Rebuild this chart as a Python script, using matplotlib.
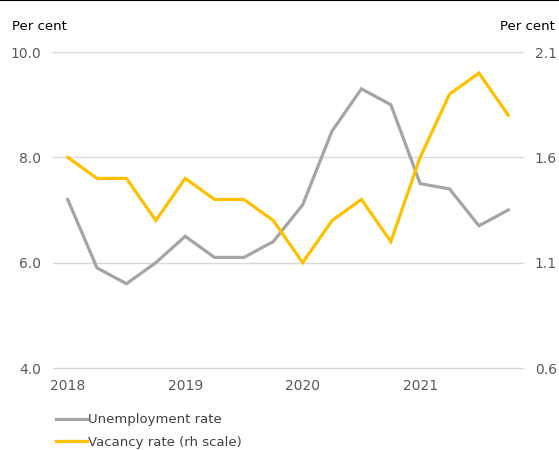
import matplotlib.pyplot as plt
from matplotlib.lines import Line2D

quarters = list(range(16))
year_pos = [0, 4, 8, 12]
year_labels = ['2018', '2019', '2020', '2021']
unemployment = [7.2, 5.9, 5.6, 6.0, 6.5, 6.1, 6.1, 6.4, 7.1, 8.5, 9.3, 9.0, 7.5, 7.4, 6.7, 7.0]
vacancy = [1.6, 1.5, 1.5, 1.3, 1.5, 1.4, 1.4, 1.3, 1.1, 1.3, 1.4, 1.2, 1.6, 1.9, 2.0, 1.8]
left_ticks = [4.0, 6.0, 8.0, 10.0]
right_ticks = [0.6, 1.1, 1.6, 2.1]

grey = '#a5a5a5'
yellow = '#ffc000'
tick_col = '#595959'

fig = plt.figure(figsize=(5.59, 4.5), dpi=100)
ax = fig.add_axes([53/559, 1 - 368/450, 470/559, 316/450])
ax2 = ax.twinx()

ax.plot(quarters, unemployment, color=grey, lw=2.3, solid_joinstyle='miter')
ax2.plot(quarters, vacancy, color=yellow, lw=2.3, solid_joinstyle='miter')

ax.set_xlim(-0.5, 15.5)
ax.set_ylim(4, 10)
ax2.set_ylim(0.6, 2.1)
ax.set_yticks(left_ticks)
ax.set_yticklabels(['%.1f' % t for t in left_ticks])
ax2.set_yticks(right_ticks)
ax2.set_yticklabels(['%.1f' % t for t in right_ticks])
ax.set_xticks(year_pos)
ax.set_xticklabels(year_labels)

ax.grid(axis='y', color='#d9d9d9', lw=1)
for gl in ax.get_ygridlines():
    gl.set_clip_on(False)
ax.set_axisbelow(True)
for a in (ax, ax2):
    for s in a.spines.values():
        s.set_visible(False)
    a.tick_params(length=0, labelsize=10, colors=tick_col)
ax.tick_params(axis='y', pad=8.5)
ax2.tick_params(axis='y', pad=8.5)
ax.tick_params(axis='x', pad=8)

fig.text(12/559, 1 - 26/450, 'Per cent', fontsize=9.5, color='black', va='center', ha='left')
fig.text(555/559, 1 - 26/450, 'Per cent', fontsize=9.5, color='black', va='center', ha='right')

# thin black rule across the top
fig.add_artist(Line2D([0, 1], [0.999, 0.999], color='black', lw=1.5, transform=fig.transFigure))

handles = [Line2D([], [], color=grey, lw=2.3), Line2D([], [], color=yellow, lw=2.3)]
fig.legend(handles, ['Unemployment rate', 'Vacancy rate (rh scale)'],
           loc='upper left', bbox_to_anchor=(51/559, 1 - 408/450), frameon=False,
           fontsize=9.5, handlelength=2.3, handletextpad=0.1, labelspacing=0.72,
           labelcolor='#404040', borderaxespad=0)

fig.savefig('out.png', dpi=100)
